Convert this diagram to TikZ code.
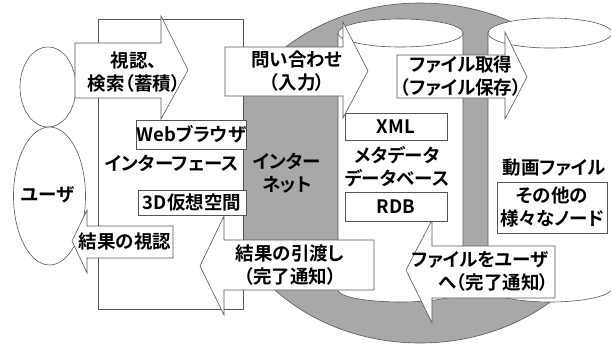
\documentclass[tikz,border=0pt]{standalone}
\usepackage{fontspec}
\setmainfont{Noto Sans CJK JP}[BoldFont=* Bold, RawFeature=+palt]
\newcommand{\lblfont}{\bfseries\fontsize{18.5}{23}\selectfont}
\definecolor{lncol}{RGB}{85,85,85}
\definecolor{gcol}{RGB}{168,168,168}
\begin{document}
\begin{tikzpicture}[x=1pt,y=1pt,yscale=-1,
  ln/.style={draw=lncol, line width=0.6pt},
  shp/.style={ln, fill=white},
  box/.style={shp, inner sep=0pt, font=\lblfont, align=center},
  lbl/.style={font=\lblfont, align=center, inner sep=0pt, text=black}]
\useasboundingbox (0,0) rectangle (611,346);
\clip (0,0) rectangle (611,346);
\fill[white] (0,0) rectangle (611,346);
% big gray ellipse
\filldraw[fill=gcol, ln] (420,173) ellipse[x radius=200, y radius=170];
% cylinders
\path[shp] (338,33) -- (338,290) arc[start angle=180, end angle=0, x radius=62.5, y radius=12] -- (463,33) -- cycle;
\path[shp] (400.5,33) ellipse[x radius=62.5, y radius=14];
\path[shp] (488,33) -- (488,288) arc[start angle=180, end angle=0, x radius=62, y radius=14] -- (612,33) -- cycle;
\path[shp] (550,33) ellipse[x radius=62, y radius=15];
% interface rectangle
\path[shp] (98,19) rectangle (243,309);
% user
\path[shp] (48,87) ellipse[x radius=28, y radius=40];
\path[shp] (49.5,196) ellipse[x radius=36, y radius=69];
% arrows
\path[shp] (75,43) -- (161,43) -- (161,16) -- (188,70) -- (161,119) -- (161,98) -- (75,98) -- cycle;
\path[shp] (225,47) -- (343,47) -- (343,22) -- (368,71) -- (343,118) -- (343,96) -- (225,96) -- cycle;
\path[shp] (397,55) -- (505,55) -- (505,32) -- (527,77) -- (505,119) -- (505,98) -- (397,98) -- cycle;
\path[shp] (173,226) -- (87,226) -- (87,210) -- (72,241) -- (87,273) -- (87,258) -- (173,258) -- cycle;
\path[shp] (374,240) -- (224,240) -- (224,216) -- (200,266) -- (224,315) -- (224,290) -- (374,290) -- cycle;
\path[shp] (555,246) -- (432,246) -- (432,220) -- (406,270) -- (432,323) -- (432,298) -- (555,298) -- cycle;
% boxes
\node[box, minimum width=103pt, minimum height=29pt] (web) at (191.5,134.5) {Webブラウザ};
\node[box, minimum width=108pt, minimum height=25pt] (vr) at (192,202.5) {3D仮想空間};
\node[box, minimum width=102pt, minimum height=27pt] (xml) at (396,126.5) {XML};
\node[box, minimum width=102pt, minimum height=29pt] (rdb) at (396,206.5) {RDB};
\node[box, minimum width=110pt, minimum height=51pt] (other) at (552,207.5) {その他の\\様々なノード};
% labels
\node[lbl] (user) at (48,195) {ユーザ};
\node[lbl] (a1) at (134,72) {視認、\\検索（蓄積）};
\node[lbl] (a2) at (297,71) {問い合わせ\\（入力）};
\node[lbl] (a3) at (461,76) {ファイル取得\\（ファイル保存）};
\node[lbl] (a4) at (125,241) {結果の視認};
\node[lbl] (a5) at (290,265) {結果の引渡し\\（完了通知）};
\node[lbl, align=right, anchor=east] (a6) at (549,271) {ファイルをユーザ\\へ（完了通知）};
\node[lbl] (ifc) at (172,163) {インターフェース};
\node[lbl] (net) at (287,173) {インター\\ネット};
\node[lbl] (meta) at (397,167) {メタデータ\\データベース};
\node[lbl] (movie) at (554,168) {動画ファイル};
\end{tikzpicture}
\end{document}
